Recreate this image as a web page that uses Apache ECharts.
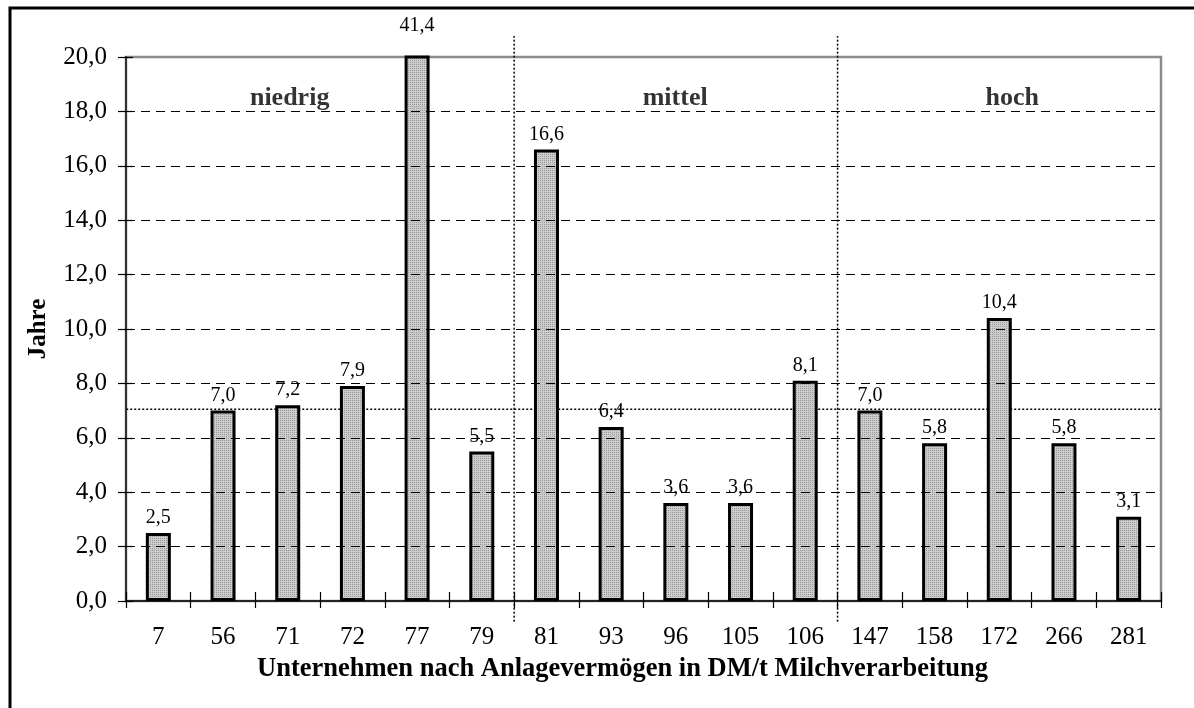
<!DOCTYPE html>
<html>
<head>
<meta charset="utf-8">
<script src="https://cdn.jsdelivr.net/npm/echarts@6/dist/echarts.min.js"></script>
<style>
  html, body { margin: 0; padding: 0; background: #ffffff; }
  #chart { width: 1194px; height: 708px; }
</style>
</head>
<body>
<div id="chart"></div>
<script>
// Amortisation period (years) per company, ordered by fixed assets in DM per t of processed milk
const categories = ['7', '56', '71', '72', '77', '79', '81', '93', '96', '105', '106', '147', '158', '172', '266', '281'];
const years = [2.5, 7.0, 7.2, 7.9, 41.4, 5.5, 16.6, 6.4, 3.6, 3.6, 8.1, 7.0, 5.8, 10.4, 5.8, 3.1];
const yTicks = [0, 2, 4, 6, 8, 10, 12, 14, 16, 18, 20];
// Company groups: name and the category index range each group covers
const groupNames = ['niedrig', 'mittel', 'hoch'];
const groupBounds = [0, 6, 11, 16];
const referenceLevel = 7.05;

const SERIF = "'Liberation Serif', 'Times New Roman', serif";
const yMin = yTicks[0];
const yMax = yTicks[yTicks.length - 1];
const yStep = yTicks[1] - yTicks[0];

const fmt = v => Number(v).toFixed(1).replace('.', ',');

// Fine stipple fill for the bars
function stipple() {
  const c = document.createElement('canvas');
  c.width = 2; c.height = 2;
  const g = c.getContext('2d');
  g.fillStyle = '#cdcdcd';
  g.fillRect(0, 0, 2, 2);
  g.fillStyle = '#989898';
  g.fillRect(0, 0, 1, 1);
  return c;
}

const chart = echarts.init(document.getElementById('chart'), null, { renderer: 'canvas' });

const barData = years.map(v => v > yMax
  ? { value: v, label: { distance: 20 } }
  : v);

// Label anchors for the group captions (in category units / axis values)
const groupLabelX = [2.53, 8.49, 13.7];
const groupLabelY = 18.5;

const option = {
  animation: false,
  backgroundColor: '#ffffff',
  graphic: [{
    type: 'rect',
    shape: { x: 10, y: 8, width: 1400, height: 900 },
    style: { fill: 'none', stroke: '#000000', lineWidth: 3 },
    silent: true,
    z: 100
  }],
  grid: {
    left: 126, right: 33, top: 57, bottom: 107,
    show: true,
    borderColor: '#8c8c8c',
    borderWidth: 2.5,
    backgroundColor: 'transparent',
    containLabel: false
  },
  xAxis: [{
    type: 'category',
    data: categories,
    position: 'bottom',
    boundaryGap: true,
    axisLine: { show: true, lineStyle: { color: '#000000', width: 1.5 } },
    axisTick: { show: true, inside: false, length: 7, alignWithLabel: false, lineStyle: { color: '#000000', width: 1.2 } },
    axisLabel: { fontFamily: SERIF, fontSize: 25, color: '#000000', margin: 24, interval: 0 },
    splitLine: { show: false },
    name: 'Unternehmen nach Anlagevermögen in DM/t Milchverarbeitung',
    nameLocation: 'middle',
    nameGap: 55,
    nameTextStyle: { fontFamily: SERIF, fontSize: 26.5, fontWeight: 'bold', color: '#000000', padding: [0, 42, 0, 0] }
  }, {
    type: 'category',
    data: categories,
    position: 'bottom',
    boundaryGap: true,
    axisLine: { show: false },
    axisTick: { show: true, inside: true, length: 9, lineStyle: { color: '#000000', width: 1.2 } },
    axisLabel: { show: false },
    splitLine: { show: false }
  }, {
    type: 'value',
    min: 0,
    max: categories.length,
    show: false
  }],
  yAxis: [{
    type: 'value',
    min: yMin, max: yMax, interval: yStep,
    position: 'left',
    axisLine: { show: true, lineStyle: { color: '#333333', width: 2 } },
    axisTick: { show: true, inside: false, length: 8, lineStyle: { color: '#000000', width: 1.2 } },
    axisLabel: { fontFamily: SERIF, fontSize: 25, color: '#000000', margin: 19, formatter: v => fmt(v) },
    splitLine: { show: false },
    name: 'Jahre',
    nameLocation: 'middle',
    nameRotate: 90,
    nameGap: 75,
    nameTextStyle: { fontFamily: SERIF, fontSize: 25, fontWeight: 'bold', color: '#000000' }
  }, {
    type: 'value',
    min: yMin, max: yMax, interval: yStep,
    position: 'left',
    axisLine: { show: false },
    axisTick: { show: true, inside: true, length: 7, lineStyle: { color: '#000000', width: 1.2 } },
    axisLabel: { show: false },
    splitLine: { show: false }
  }],
  series: [
    {
      // dashed horizontal gridlines at the inner ticks
      type: 'line',
      xAxisIndex: 2, yAxisIndex: 0,
      data: [],
      z: 1,
      silent: true,
      markLine: {
        silent: true,
        symbol: ['none', 'none'],
        label: { show: false },
        lineStyle: { color: '#000000', width: 1, type: [9, 6] },
        data: yTicks.slice(1, -1).map(v => ({ yAxis: v }))
      }
    },
    {
      // reference level across the plot
      type: 'line',
      xAxisIndex: 2, yAxisIndex: 0,
      data: [[-0.12, referenceLevel], [categories.length, referenceLevel]],
      clip: false,
      z: 2,
      symbol: 'none',
      silent: true,
      lineStyle: { color: '#000000', width: 1.5, type: [2, 2] }
    },
    ...groupBounds.slice(1, -1).map(b => ({
      // group separators
      type: 'line',
      xAxisIndex: 2, yAxisIndex: 0,
      data: [[b, -0.76], [b, 20.77]],
      clip: false,
      z: 2,
      symbol: 'none',
      silent: true,
      lineStyle: { color: '#000000', width: 1.5, type: [2, 2] }
    })),
    {
      type: 'bar',
      xAxisIndex: 0, yAxisIndex: 0,
      data: barData,
      barWidth: 25,
      clip: true,
      z: 3,
      itemStyle: {
        color: { image: stipple(), repeat: 'repeat' },
        borderColor: '#000000',
        borderWidth: 3
      },
      label: {
        show: true,
        position: 'top',
        distance: 5,
        fontFamily: SERIF,
        fontSize: 20,
        color: '#000000',
        formatter: p => fmt(p.value)
      }
    },
    {
      // group captions
      type: 'scatter',
      xAxisIndex: 2, yAxisIndex: 0,
      data: groupNames.map((n, i) => [groupLabelX[i], groupLabelY]),
      symbolSize: 0,
      z: 4,
      silent: true,
      label: {
        show: true,
        position: 'inside',
        fontFamily: SERIF,
        fontSize: 26,
        fontWeight: 'bold',
        color: '#000000',
        formatter: p => groupNames[p.dataIndex]
      }
    }
  ]
};

chart.setOption(option);
</script>
</body>
</html>
